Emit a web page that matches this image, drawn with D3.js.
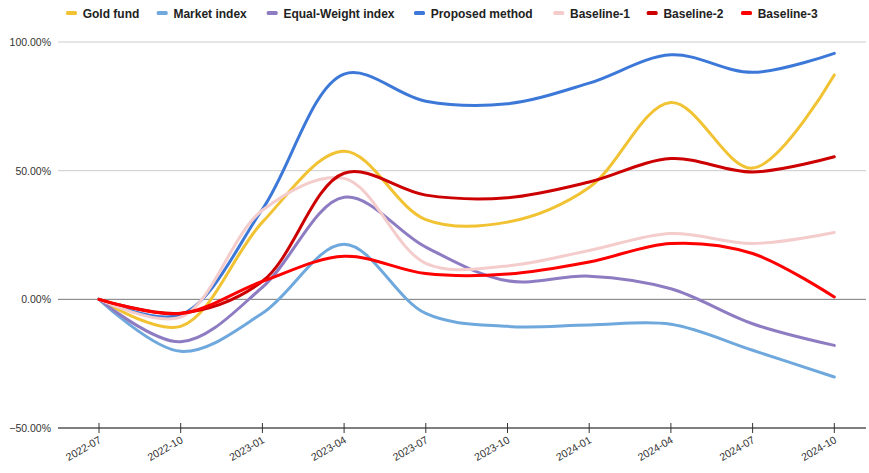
<!DOCTYPE html>
<html><head><meta charset="utf-8">
<script src="https://cdn.jsdelivr.net/npm/d3@7"></script>
<style>body{margin:0;background:#fff;font-family:"Liberation Sans",Arial,sans-serif}</style>
</head><body><svg id="c" width="869" height="473"></svg>
<script>
const dates = ["2022-07","2022-10","2023-01","2023-04","2023-07","2023-10","2024-01","2024-04","2024-07","2024-10"];
const seriesNames = ["Gold fund","Market index","Equal-Weight index","Proposed method","Baseline-1","Baseline-2","Baseline-3"];
const seriesColors = ["#f1c232","#6fa8dc","#8e7cc3","#3c78d8","#f4cccc","#cc0000","#ff0000"];
const goldFund      = [0, -10.5, 30, 57.5, 31, 30, 43.5, 76.5, 51, 87.2];
const marketIndex   = [0, -20.2, -5.4, 21.4, -5.5, -10.5, -10, -9.7, -19.8, -30.2];
const equalWeight   = [0, -16.5, 4.7, 39.7, 20.3, 7.2, 9, 4.1, -9.5, -17.9];
const proposed      = [0, -6, 35, 87.5, 77, 76, 84, 95, 88.2, 95.6];
const baseline1     = [0, -6.9, 34.6, 47, 14, 13, 19, 25.6, 21.7, 26];
const baseline2     = [0, -5.4, 7, 49, 40.5, 39.5, 45.6, 54.7, 49.5, 55.4];
const baseline3     = [0, -5.5, 7, 16.7, 10, 9.8, 14.5, 21.7, 17.8, 0.9];
const yTicks = [-50, 0, 50, 100];

const allValues = [goldFund, marketIndex, equalWeight, proposed, baseline1, baseline2, baseline3];
const svg = d3.select("#c");
const pLeft = 58, pRight = 866, pTop = 42, pBottom = 428;
const x = d3.scalePoint().domain(dates).range([99, 834.3]);
const y = d3.scaleLinear().domain([-50, 100]).range([pBottom, pTop]);

// gridlines
svg.append("g").selectAll("line").data(yTicks).join("line")
  .attr("x1", pLeft).attr("x2", pRight)
  .attr("y1", d => y(d)).attr("y2", d => y(d))
  .attr("stroke", d => d === 0 ? "#777" : (d === -50 ? "#555" : "#ccc"))
  .attr("stroke-width", d => d === -50 ? 1.5 : 1);

// y labels
svg.append("g").selectAll("text").data(yTicks).join("text")
  .attr("x", 51).attr("y", d => y(d) + 4)
  .attr("text-anchor", "end").attr("font-size", 10.5).attr("fill", "#333")
  .text(d => d3.format(".2f")(d) + "%");

// x axis ticks
const xa = svg.append("g");
xa.selectAll("line").data(dates).join("line")
  .attr("x1", d => x(d)).attr("x2", d => x(d))
  .attr("y1", pBottom - 5).attr("y2", pBottom + 5)
  .attr("stroke", "#333").attr("stroke-width", 1);
xa.selectAll("text").data(dates).join("text")
  .attr("transform", d => `translate(${x(d) + 3},${pBottom + 14}) rotate(-30)`)
  .attr("text-anchor", "end").attr("font-size", 10.5).attr("fill", "#333")
  .text(d => d);

// lines
const line = d3.line().x((d, i) => x(dates[i])).y(d => y(d)).curve(d3.curveCatmullRom.alpha(0.5));
svg.append("g").selectAll("path").data(allValues).join("path")
  .attr("d", d => line(d)).attr("fill", "none")
  .attr("stroke", (d, i) => seriesColors[i]).attr("stroke-width", 3)
  .attr("stroke-linejoin", "round").attr("stroke-linecap", "round");

// legend (layout positions of each entry)
const legendX = [66, 156.7, 266.7, 414, 553.3, 646.7, 741];
const lg = svg.append("g").attr("transform", "translate(0,13)");
seriesNames.forEach((n, i) => {
  const g = lg.append("g").attr("transform", `translate(${legendX[i]},0)`);
  g.append("rect").attr("x", 0).attr("y", -2).attr("width", 11).attr("height", 4).attr("rx", 1.5)
    .attr("fill", seriesColors[i]);
  g.append("text").attr("x", 16.7).attr("y", 4.5).attr("font-size", 12)
    .attr("font-weight", "bold").attr("fill", "#222").text(n);
});
</script></body></html>
